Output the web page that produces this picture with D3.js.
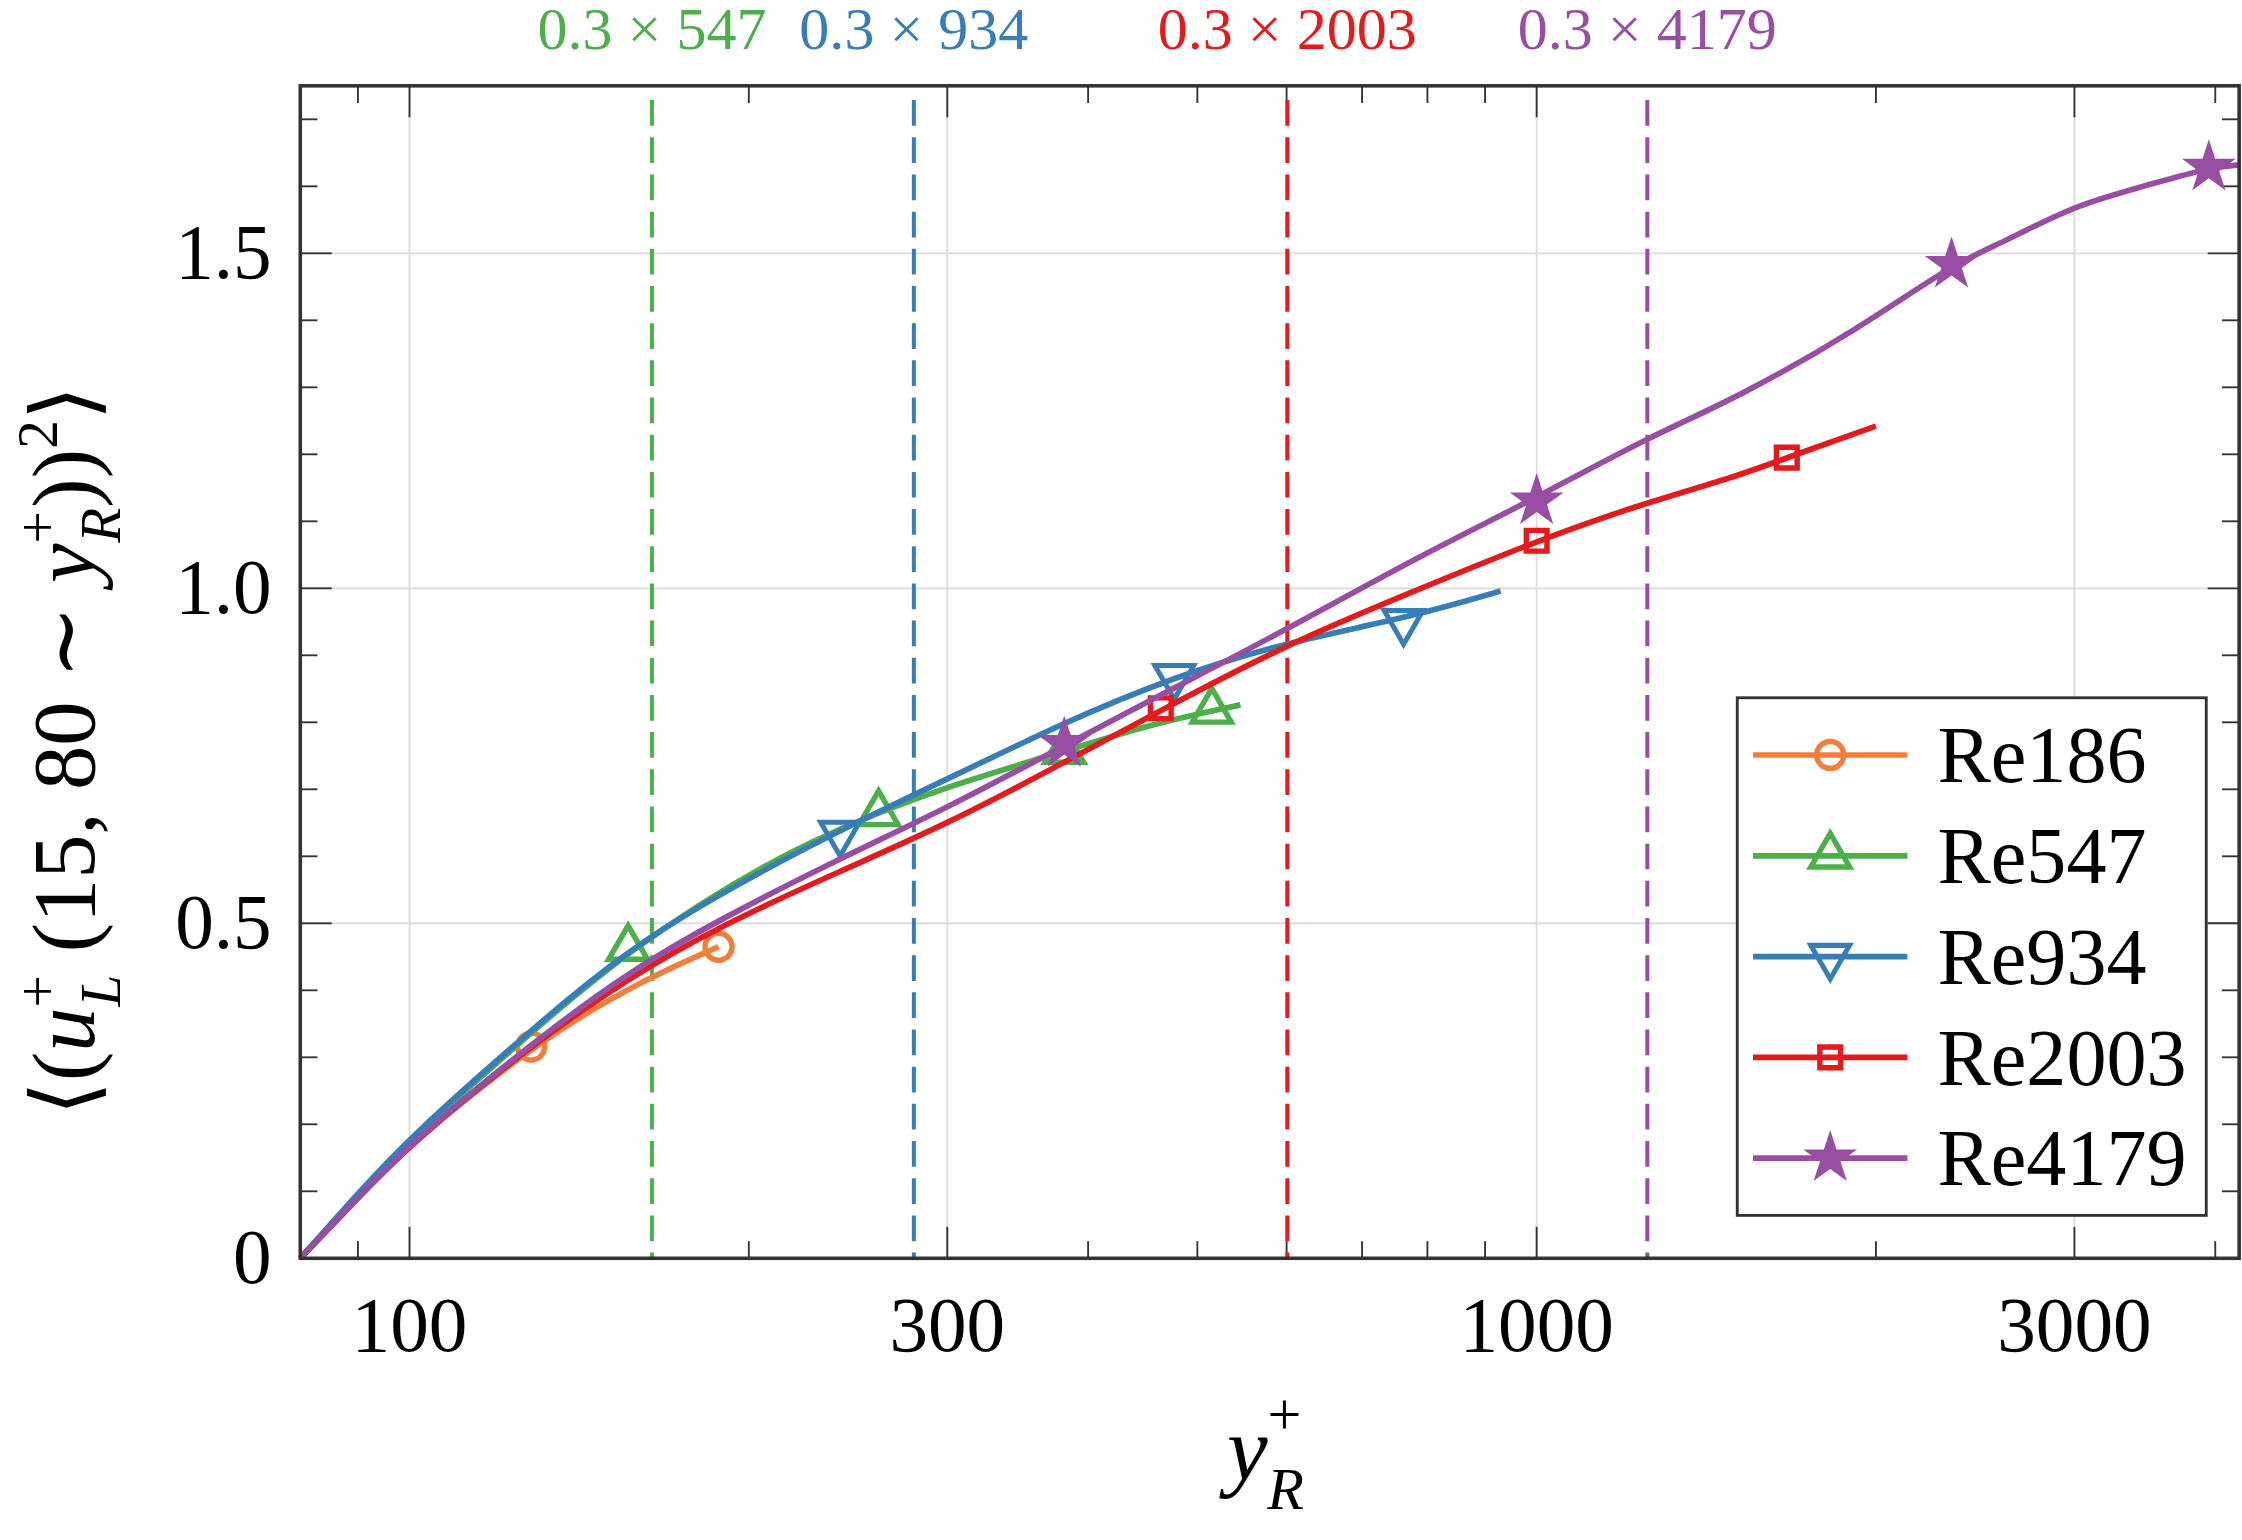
<!DOCTYPE html><html><head><meta charset="utf-8">
<script src="https://cdn.jsdelivr.net/npm/d3@7"></script>
<style>body{margin:0;background:#fff}svg{display:block}text{font-family:"Liberation Serif","DejaVu Serif",serif}</style>
</head><body><svg id="c" width="2242" height="1540" viewBox="0 0 1568 1077"></svg>
<script>
const seriesNames=["Re186","Re547","Re934","Re2003","Re4179"];
const colors=["#f07f3c","#4daf4a","#377eb8","#e41a1c","#984ea3"];
const shapes=["circle","triangle","triangleDown","square","star"];
const x186=[80,90,100,128.2,156.3,188];
const y186=[0,0.09,0.17,0.316,0.405,0.465];
const m186=[[128.2,0.316],[188,0.465]];
const x547=[80,90,100,128.2,156.3,209.5,260.7,300,381,448,515,546];
const y547=[0,0.095,0.177,0.337,0.46,0.597,0.666,0.704,0.757,0.794,0.817,0.826];
const m547=[[156.3,0.463],[260.7,0.664],[381,0.757],[515,0.817]];
const x934=[80,90,100,128.2,163.9,241,300,381,477,601,769,929];
const y934=[0,0.097,0.18,0.341,0.491,0.64,0.715,0.80,0.868,0.92,0.956,0.996];
const m934=[[241,0.634],[477,0.868],[762,0.95]];
const x2003=[80,90,100,128.2,156.3,188,241,300,381,464,601,769,1000,1245,1506,1667,2000];
const y2003=[0,0.09,0.17,0.318,0.418,0.495,0.578,0.648,0.740,0.818,0.917,0.992,1.071,1.127,1.167,1.195,1.242];
const m2003=[[464,0.821],[1000,1.071],[1667,1.195]];
const x4179=[80,90,100,128.2,156.3,188,241,300,381,475,601,780,1000,1254,1506,1930,2334,2585,3000,3460,3948,4200];
const y4179=[0,0.09,0.171,0.320,0.427,0.505,0.597,0.672,0.765,0.850,0.939,1.045,1.135,1.225,1.284,1.387,1.483,1.515,1.572,1.600,1.628,1.632];
const m4179=[[381,0.768],[1000,1.13],[2334,1.483],[3948,1.628]];
const refRe=[547,934,2003,4179];
const refColors=["#4daf4a","#377eb8","#e41a1c","#984ea3"];
const xMajor=[100,300,1000,3000];
const xMinor=[90,200,400,500,600,700,800,900,2000,4000];
const yMajor=[0,0.5,1.0,1.5];
const yLabels=["0","0.5","1.0","1.5"];

const svg=d3.select("#c");
const L=210,R=1566,T=60,B=880;
const x=d3.scaleLog().domain([80,4200]).range([L,R]);
const y=d3.scaleLinear().domain([0,1.75]).range([B,T]);
const g=svg.append("g");
g.selectAll(".gx").data(xMajor).join("line").attr("x1",d=>x(d)).attr("x2",d=>x(d)).attr("y1",T).attr("y2",B).attr("stroke","#dcdcdc").attr("stroke-width",1.3);
g.selectAll(".gy").data(yMajor.slice(1)).join("line").attr("x1",L).attr("x2",R).attr("y1",d=>y(d)).attr("y2",d=>y(d)).attr("stroke","#dcdcdc").attr("stroke-width",1.3);
const tk=(vals,len)=>{vals.forEach(v=>{g.append("line").attr("x1",x(v)).attr("x2",x(v)).attr("y1",B).attr("y2",B-len).attr("stroke","#333").attr("stroke-width",1.3);g.append("line").attr("x1",x(v)).attr("x2",x(v)).attr("y1",T).attr("y2",T+len).attr("stroke","#333").attr("stroke-width",1.3);});};
tk(xMajor,22);tk(xMinor,12);
const yt=d3.range(0,1.75,0.1);
yt.forEach(v=>{const maj=Math.abs(v*2-Math.round(v*2))<1e-6;const len=maj?22:12;
 g.append("line").attr("x1",L).attr("x2",L+len).attr("y1",y(v)).attr("y2",y(v)).attr("stroke","#333").attr("stroke-width",1.3);
 g.append("line").attr("x1",R).attr("x2",R-len).attr("y1",y(v)).attr("y2",y(v)).attr("stroke","#333").attr("stroke-width",1.3);});
g.selectAll(".xl").data(xMajor).join("text").attr("x",d=>x(d)).attr("y",945).attr("text-anchor","middle").attr("font-size",54).text(d=>d);
g.selectAll(".yl").data(yMajor).join("text").attr("x",190).attr("y",d=>y(d)+17).attr("text-anchor","end").attr("font-size",54).text((d,i)=>yLabels[i]);
refRe.forEach((r,i)=>{g.append("line").attr("x1",x(0.3*r)).attr("x2",x(0.3*r)).attr("y1",70).attr("y2",B).attr("stroke",refColors[i]).attr("stroke-width",2.8).attr("stroke-dasharray","18,8");
 g.append("text").attr("x",x(0.3*r)).attr("y",34).attr("text-anchor","middle").attr("font-size",42).attr("fill",refColors[i]).text("0.3 × "+r);});
const data=[[x186,y186,m186],[x547,y547,m547],[x934,y934,m934],[x2003,y2003,m2003],[x4179,y4179,m4179]];
const line=d3.line().x(d=>x(d[0])).y(d=>y(d[1])).curve(d3.curveBasis);
const sym={circle:d3.symbolCircle,triangle:d3.symbolTriangle,square:d3.symbolSquare,star:d3.symbolStar};
function marker(sel,shape,c,px,py){
 if(shape==="star"){sel.append("path").attr("d",d3.symbol(d3.symbolStar,440)()).attr("transform",`translate(${px},${py})`).attr("fill",c);return;}
 if(shape==="triangleDown"){sel.append("path").attr("d",d3.symbol(d3.symbolTriangle,320)()).attr("transform",`translate(${px},${py}) rotate(180)`).attr("fill","none").attr("stroke",c).attr("stroke-width",3.5);return;}
 const sz={circle:280,triangle:320,square:210}[shape];
 sel.append("path").attr("d",d3.symbol(sym[shape],sz)()).attr("transform",`translate(${px},${py})`).attr("fill","none").attr("stroke",c).attr("stroke-width",3.8);
}
data.forEach((s,i)=>{const pts=s[0].map((v,j)=>[v,s[1][j]]);
 g.append("path").datum(pts).attr("d",line).attr("fill","none").attr("stroke",colors[i]).attr("stroke-width",4);
 s[2].forEach(m=>marker(g,shapes[i],colors[i],x(m[0]),y(m[1])));});
g.append("rect").attr("x",L).attr("y",T).attr("width",R-L).attr("height",B-T).attr("fill","none").attr("stroke","#333").attr("stroke-width",2.5);
const lg=g.append("g");
lg.append("rect").attr("x",1215).attr("y",488).attr("width",328).attr("height",362).attr("fill","#fff").attr("stroke","#333").attr("stroke-width",2);
seriesNames.forEach((n,i)=>{const yy=528+i*70.5;
 lg.append("line").attr("x1",1226).attr("x2",1334).attr("y1",yy).attr("y2",yy).attr("stroke",colors[i]).attr("stroke-width",4);
 marker(lg,shapes[i],colors[i],1280,yy);
 lg.append("text").attr("x",1355).attr("y",yy+19).attr("font-size",56).text(n);});
const xl=svg.append("text").attr("x",885).attr("y",1035).attr("text-anchor","middle").attr("font-size",64);
xl.append("tspan").attr("font-style","italic").text("y");
xl.append("tspan").attr("font-size",42).attr("dy",-32).attr("dx",0).text("+");
xl.append("tspan").attr("font-size",42).attr("font-style","italic").attr("dy",52).attr("dx",-24).text("R");
const yl=svg.append("text").attr("transform","translate(66,525) rotate(-90)").attr("text-anchor","middle").attr("font-size",62);
yl.append("tspan").text("⟨(");
yl.append("tspan").attr("font-style","italic").text("u");
yl.append("tspan").attr("font-size",40).attr("dy",-26).text("+");
yl.append("tspan").attr("font-size",40).attr("font-style","italic").attr("dy",44).attr("dx",-22).text("L");
yl.append("tspan").attr("dy",-18).text(" (15, 80 ∼ ");
yl.append("tspan").attr("font-style","italic").text("y");
yl.append("tspan").attr("font-size",40).attr("dy",-26).text("+");
yl.append("tspan").attr("font-size",40).attr("font-style","italic").attr("dy",44).attr("dx",-22).text("R");
yl.append("tspan").attr("dy",-18).text("))");
yl.append("tspan").attr("font-size",40).attr("dy",-26).text("2");
yl.append("tspan").attr("dy",26).text("⟩");
</script></body></html>
